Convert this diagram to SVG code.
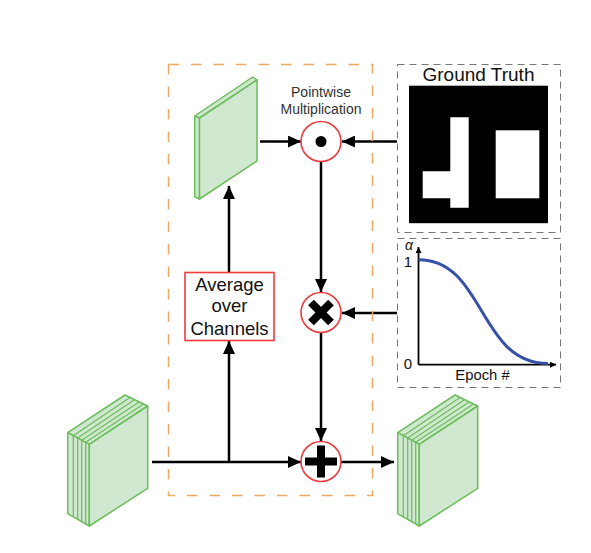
<svg xmlns="http://www.w3.org/2000/svg" width="591" height="553" viewBox="0 0 591 553">
<style>
text{font-family:"Liberation Sans",Arial,sans-serif;fill:#111}
text.lbl{fill:#333}
.g{fill:#cfe8cf;stroke:#6cbd5c;stroke-width:1.5;stroke-linejoin:round}
.gl{fill:none;stroke:#6cbd5c;stroke-width:1.2}
.c{fill:#fff;stroke:#ee3a3f;stroke-width:1.6}
.a2{fill:none;stroke:#000;stroke-width:2.5;marker-end:url(#ah)}
.d{fill:none;stroke:#777;stroke-width:1;stroke-dasharray:7 5}
</style>
<defs>
<marker id="ah" markerUnits="userSpaceOnUse" markerWidth="14" markerHeight="12" refX="13" refY="6" orient="auto"><path d="M0 0L13 6L0 12Z" fill="#000"/></marker>
<marker id="sm" markerUnits="userSpaceOnUse" markerWidth="7" markerHeight="6" refX="6" refY="3" orient="auto"><path d="M0 0L6 3L0 6Z" fill="#000"/></marker>
<g id="stk">
<path class="g" d="M67.7 432.7L125 395L147.700 406L89.300 444.300Z"/>
<path class="g" d="M67.7 432.7L89.300 444.300V526L67.7 513.7Z"/>
<path class="g" d="M89.300 444.300L147.700 406V488.300L89.300 526Z"/>
<path class="gl" d="M73.300 435.700V517M73.300 435.700L130 397.500M77.700 438V519.500M77.700 438L134.500 399.700M81.700 440.200V521.700M81.700 440.200L139 401.900M85.700 442.300V524M85.700 442.300L143.500 404"/>
</g>
</defs>
<g id="connectors">
<path class="a2" d="M260 141.500H301"/>
<path class="a2" d="M397 141.500H342"/>
<path class="a2" d="M321 161V292"/>
<path class="a2" d="M397 313H342"/>
<path class="a2" d="M321 333V441"/>
<path class="a2" d="M152 462H301"/>
<path class="a2" d="M229 462V341"/>
<path class="a2" d="M229 272V186"/>
<path class="a2" d="M341 462H394"/>
</g>
<rect id="attention-frame" x="168.500" y="64.500" width="204" height="431" fill="none" stroke="#eca964" stroke-width="1.500" stroke-dasharray="10.500 12"/>
<g id="input-stack"><use href="#stk"/></g>
<g id="output-stack"><use href="#stk" x="330"/></g>
<g id="attention-map">
<path class="g" d="M194.700 116L252.700 77L257 80L199.500 118Z"/>
<path class="g" d="M194.700 116L199.500 118V199L194.700 196.700Z"/>
<path class="g" d="M199.500 118L257 80V161L199.500 199Z"/>
</g>
<g id="average-box">
<rect x="185" y="272.500" width="89" height="68" fill="#fff" stroke="#ee3a3f" stroke-width="1.600"/>
<text x="229.500" y="291" font-size="18.500" text-anchor="middle">Average</text>
<text x="229.500" y="312" font-size="18.500" text-anchor="middle">over</text>
<text x="229.500" y="335" font-size="18.500" text-anchor="middle">Channels</text>
</g>
<g id="pointwise">
<circle class="c" cx="321" cy="141.500" r="20"/>
<circle cx="321" cy="141.500" r="5.500" fill="#000"/>
<text class="lbl" x="321" y="97" font-size="14" text-anchor="middle">Pointwise</text>
<text class="lbl" x="321" y="114.300" font-size="14" text-anchor="middle">Multiplication</text>
</g>
<g id="multiply">
<circle class="c" cx="321" cy="312.500" r="20"/>
<path d="M311 302.500L331 322.500M331 302.500L311 322.500" stroke="#000" stroke-width="8" fill="none"/>
</g>
<g id="add">
<circle class="c" cx="321" cy="461.500" r="20"/>
<path d="M321 445.500V477.500M305 461.500H337" stroke="#000" stroke-width="8" fill="none"/>
</g>
<g id="ground-truth">
<rect class="d" x="397.500" y="64.500" width="163" height="168"/>
<text x="478.500" y="81" font-size="19" text-anchor="middle">Ground Truth</text>
<rect x="409" y="85.700" width="139" height="137.500" fill="#000"/>
<path d="M450.300 117.300H468.700V207.700H450.300V198.300H422.700V171.300H450.300Z" fill="#fff"/>
<rect x="495.700" y="130.300" width="43.600" height="68" fill="#fff"/>
</g>
<g id="alpha-plot">
<rect class="d" x="397.500" y="238.500" width="163" height="149"/>
<path d="M418.500 364.700V247" fill="none" stroke="#000" stroke-width="1.800" marker-end="url(#sm)"/>
<path d="M418.500 364.700H556" fill="none" stroke="#000" stroke-width="1.800" marker-end="url(#sm)"/>
<path d="M418.500 259.700C485 259.700 478 363.500 548 363.500" fill="none" stroke="#3650a5" stroke-width="3"/>
<text x="409" y="249.500" font-size="14" font-style="italic" text-anchor="middle">α</text>
<text x="408" y="267" font-size="15" text-anchor="middle">1</text>
<text x="408" y="369" font-size="15" text-anchor="middle">0</text>
<text x="482.500" y="380" font-size="14.800" text-anchor="middle">Epoch #</text>
</g>
</svg>
